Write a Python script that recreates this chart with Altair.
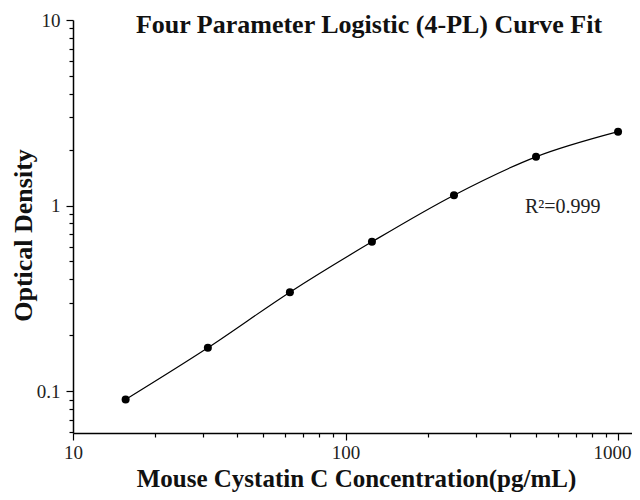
import altair as alt
import pandas as pd

# Data
concentration = [15.6, 31.25, 62.5, 125, 250, 500, 1000]
optical_density = [0.090, 0.171, 0.341, 0.637, 1.137, 1.83, 2.50]

x_tick_values = [10, 20, 30, 40, 50, 60, 70, 80, 90, 100,
                 200, 300, 400, 500, 600, 700, 800, 900, 1000]
x_major = [10, 100, 1000]
y_tick_values = [0.06, 0.07, 0.08, 0.09, 0.1, 0.2, 0.3, 0.4, 0.5, 0.6, 0.7, 0.8, 0.9,
                 1, 2, 3, 4, 5, 6, 7, 8, 9, 10]
y_major = [0.1, 1, 10]

title_text = "Four Parameter Logistic (4-PL) Curve Fit"
x_title = "Mouse Cystatin C Concentration(pg/mL)"
y_title = "Optical Density"
r2_text = "R²=0.999"

df = pd.DataFrame({"conc": concentration, "od": optical_density})

FONT = "Liberation Serif"

x_scale = alt.Scale(type="log", domain=[10, 1125], nice=False)
y_scale = alt.Scale(type="log", domain=[0.0594, 10], nice=False)

x_major_test = " || ".join(f"datum.value == {v}" for v in x_major)
y_major_test = " || ".join(f"datum.value == {v}" for v in y_major)

x_axis = alt.Axis(
    values=x_tick_values,
    labelExpr=f"({x_major_test}) ? format(datum.value, 'd') : ''",
    tickSize={"condition": {"test": x_major_test, "value": 7}, "value": 4},
    labelOffset={"condition": {"test": "datum.value == 1000", "value": -6}, "value": 0},
    labelPadding=3,
    labelFlush=False,
    labelOverlap=False,
    grid=False,
    title=x_title,
    titleFont=FONT,
    titleFontSize=25,
    titleFontWeight="bold",
    titleColor="#111",
    titleX=283,
    titleY=53,
    titleBaseline="alphabetic",
)

y_axis = alt.Axis(
    values=y_tick_values,
    labelExpr="datum.value == 0.1 ? '0.1' : datum.value == 1 ? '1' : datum.value == 10 ? '10' : ''",
    tickSize={"condition": {"test": y_major_test, "value": 7}, "value": 4},
    labelPadding=6,
    labelFlush=False,
    labelOverlap=False,
    grid=False,
    title=y_title,
    titleFont=FONT,
    titleFontSize=26,
    titleFontWeight="bold",
    titleColor="#111",
    titleX=-37,
    titleY=215,
)

base = alt.Chart(df)

line = base.mark_line(color="black", strokeWidth=1.2, interpolate="monotone").encode(
    x=alt.X("conc:Q", scale=x_scale, axis=x_axis),
    y=alt.Y("od:Q", scale=y_scale, axis=y_axis),
)

points = base.mark_circle(color="black", opacity=1, size=64).encode(
    x=alt.X("conc:Q", scale=x_scale),
    y=alt.Y("od:Q", scale=y_scale),
)

title_mark = alt.Chart(pd.DataFrame({"t": [title_text]})).mark_text(
    font=FONT, fontSize=26, fontWeight="bold", color="#111",
    align="center", baseline="alphabetic",
).encode(text="t:N", x=alt.value(296), y=alt.value(13))

r2_mark = alt.Chart(pd.DataFrame({"t": [r2_text]})).mark_text(
    font=FONT, fontSize=20, color="#222",
    align="left", baseline="alphabetic",
).encode(text="t:N", x=alt.value(452), y=alt.value(193))

chart = alt.layer(line, points, title_mark, r2_mark).properties(
    width=559,
    height=413,
    autosize=alt.AutoSizeParams(type="none"),
    padding={"left": 65, "top": 12, "right": 0, "bottom": 59},
).configure_view(stroke=None).configure_axis(
    domainColor="black",
    domainWidth=1.5,
    tickColor="black",
    tickWidth=1.2,
    labelFont=FONT,
    labelFontSize=19,
    labelColor="#222",
)

chart.save("out.html", embed_options={"renderer": "svg", "actions": False})
